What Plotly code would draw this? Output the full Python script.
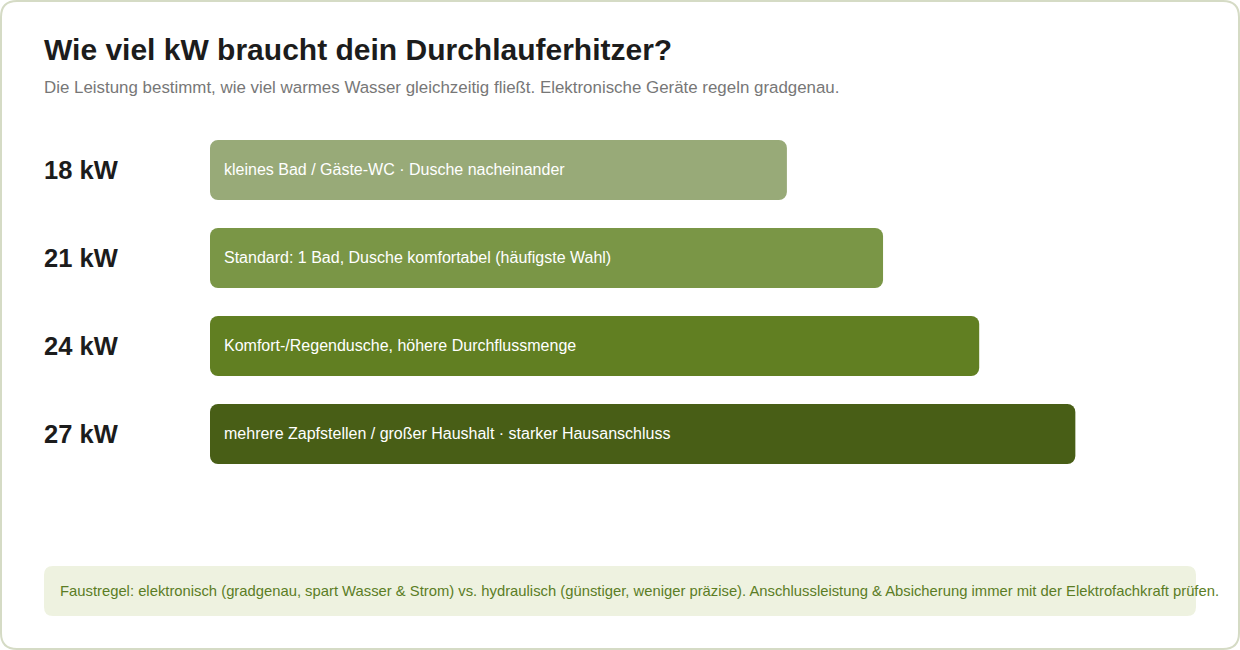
import plotly.graph_objects as go

W, H = 1240, 650

# ---- data ----
power_kw = [18, 21, 24, 27]
power_labels = ["18 kW", "21 kW", "24 kW", "27 kW"]
descriptions = [
    "kleines Bad / Gäste-WC · Dusche nacheinander",
    "Standard: 1 Bad, Dusche komfortabel (häufigste Wahl)",
    "Komfort-/Regendusche, höhere Durchflussmenge",
    "mehrere Zapfstellen / großer Haushalt · starker Hausanschluss",
]
bar_colors = ["#98aa78", "#7a9646", "#617f22", "#485e16"]

title = "Wie viel kW braucht dein Durchlauferhitzer?"
subtitle = "Die Leistung bestimmt, wie viel warmes Wasser gleichzeitig fließt. Elektronische Geräte regeln gradgenau."
footnote = ("Faustregel: elektronisch (gradgenau, spart Wasser & Strom) vs. hydraulisch (günstiger, "
            "weniger präzise). Anschlussleistung & Absicherung immer mit der Elektrofachkraft prüfen.")

FONT = "Liberation Sans, Arial, Helvetica, sans-serif"

def px(x):
    return x / W

def py(y):
    return 1 - y / H

cats = list(range(len(power_kw)))

fig = go.Figure()
fig.add_trace(go.Bar(
    y=cats, x=power_kw, base=[0] * len(power_kw), orientation="h",
    marker=dict(color=bar_colors, line=dict(width=0)),
    width=0.682, hoverinfo="skip", showlegend=False,
))

x0_px, x1_px = 210, 1196
xmax = (x1_px - x0_px) / 32.05

annotations = []
annotations.append(dict(text=f"<b>{title}</b>", x=px(42), y=py(49), xref="paper", yref="paper",
                        xanchor="left", yanchor="middle", showarrow=False,
                        font=dict(family=FONT, size=30, color="#1c1c1c")))
annotations.append(dict(text=subtitle, x=px(42), y=py(87), xref="paper", yref="paper",
                        xanchor="left", yanchor="middle", showarrow=False,
                        font=dict(family=FONT, size=16.9, color="#777777")))
for i, (lab, desc) in enumerate(zip(power_labels, descriptions)):
    annotations.append(dict(text=f"<b>{lab}</b>", x=px(42), y=i, xref="paper", yref="y",
                            xanchor="left", yanchor="middle", showarrow=False,
                            font=dict(family=FONT, size=25.5, color="#1c1c1c")))
    annotations.append(dict(text=desc, x=0, y=i, xref="x", yref="y", xshift=12,
                            xanchor="left", yanchor="middle", showarrow=False,
                            font=dict(family=FONT, size=16, color="#ffffff")))
annotations.append(dict(text=footnote, x=px(58), y=py(591), xref="paper", yref="paper",
                        xanchor="left", yanchor="middle", showarrow=False,
                        font=dict(family=FONT, size=14.8, color="#5b7d25")))

def rounded_rect(x0, y0, x1, y1, r):
    rx, ry = r / W, r / H
    X0, X1 = px(x0), px(x1)
    Y0, Y1 = py(y0), py(y1)
    return (f"M {X0+rx},{Y0} L {X1-rx},{Y0} Q {X1},{Y0} {X1},{Y0-ry} "
            f"L {X1},{Y1+ry} Q {X1},{Y1} {X1-rx},{Y1} L {X0+rx},{Y1} "
            f"Q {X0},{Y1} {X0},{Y1+ry} L {X0},{Y0-ry} Q {X0},{Y0} {X0+rx},{Y0} Z")

shapes = [
    dict(type="path", xref="paper", yref="paper", path=rounded_rect(1, 1, 1239, 649, 16),
         line=dict(color="#d5dbc5", width=2), fillcolor="rgba(0,0,0,0)", layer="below"),
    dict(type="path", xref="paper", yref="paper", path=rounded_rect(44, 566, 1196, 616, 9),
         line=dict(width=0), fillcolor="#eef2e0", layer="below"),
]

fig.update_layout(
    width=W, height=H,
    margin=dict(l=0, r=0, t=0, b=0),
    paper_bgcolor="#ffffff", plot_bgcolor="rgba(0,0,0,0)",
    barcornerradius=8,
    xaxis=dict(domain=[px(x0_px), px(x1_px)], range=[0, xmax], visible=False, fixedrange=True),
    yaxis=dict(domain=[py(478), py(126)], range=[3.5, -0.5], visible=False, fixedrange=True),
    annotations=annotations, shapes=shapes,
    font=dict(family=FONT),
)

fig.write_html("out.html")
